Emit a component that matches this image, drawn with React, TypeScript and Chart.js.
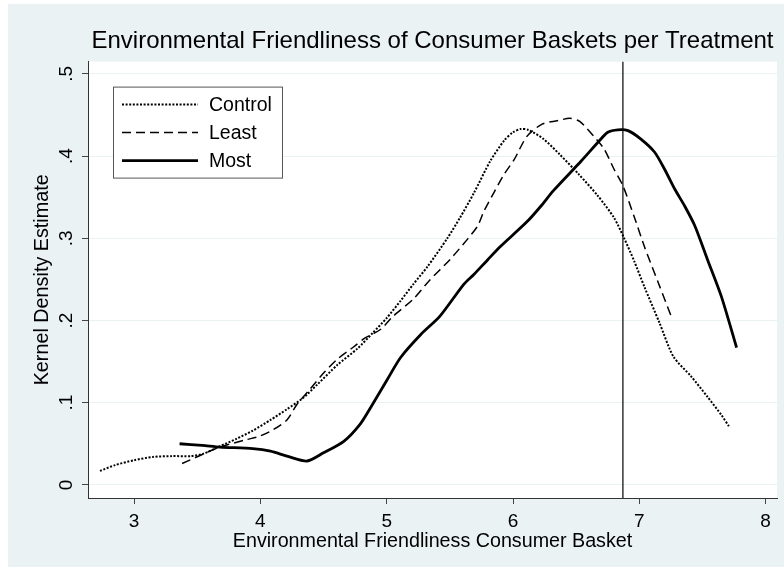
import React, { useEffect, useRef } from 'react';
import { Chart, registerables } from 'chart.js';

Chart.register(...registerables);

const chartTitle = 'Environmental Friendliness of Consumer Baskets per Treatment';
const xTitle = 'Environmental Friendliness Consumer Basket';
const yTitle = 'Kernel Density Estimate';

const seriesNames = ['Control', 'Least', 'Most'];

const controlX = [2.73, 2.85, 3.0, 3.15, 3.3, 3.45, 3.55, 3.68, 3.81, 3.94, 4.08, 4.21, 4.34, 4.45, 4.61, 4.77, 4.89, 5.0, 5.11, 5.21, 5.32, 5.48, 5.58, 5.69, 5.82, 5.93, 6.0, 6.06, 6.12, 6.24, 6.37, 6.52, 6.67, 6.8, 6.88, 6.96, 7.04, 7.16, 7.27, 7.41, 7.54, 7.65, 7.71];
const controlY = [0.017, 0.024, 0.03, 0.034, 0.035, 0.035, 0.038, 0.047, 0.056, 0.066, 0.079, 0.092, 0.106, 0.122, 0.146, 0.166, 0.185, 0.203, 0.224, 0.244, 0.265, 0.3, 0.325, 0.355, 0.394, 0.419, 0.429, 0.433, 0.432, 0.421, 0.402, 0.378, 0.352, 0.325, 0.3, 0.272, 0.241, 0.197, 0.156, 0.132, 0.107, 0.085, 0.071];

const leastX = [3.38, 3.54, 3.68, 3.89, 3.99, 4.1, 4.21, 4.29, 4.39, 4.5, 4.61, 4.74, 4.82, 4.95, 5.05, 5.21, 5.34, 5.5, 5.64, 5.72, 5.77, 5.85, 5.93, 6.01, 6.11, 6.23, 6.35, 6.45, 6.53, 6.64, 6.72, 6.8, 6.87, 6.96, 7.04, 7.15, 7.26];
const leastY = [0.026, 0.037, 0.046, 0.055, 0.059, 0.067, 0.079, 0.098, 0.116, 0.136, 0.153, 0.168, 0.178, 0.189, 0.205, 0.226, 0.249, 0.274, 0.299, 0.315, 0.333, 0.356, 0.378, 0.396, 0.424, 0.439, 0.443, 0.446, 0.442, 0.424, 0.409, 0.384, 0.364, 0.326, 0.29, 0.246, 0.202];

const mostX = [3.36, 3.54, 3.68, 3.94, 4.08, 4.21, 4.37, 4.5, 4.66, 4.79, 4.88, 5.0, 5.11, 5.27, 5.42, 5.61, 5.69, 5.8, 5.9, 6.11, 6.22, 6.32, 6.54, 6.68, 6.75, 6.83, 6.91, 7.01, 7.12, 7.2, 7.28, 7.36, 7.44, 7.54, 7.65, 7.77];
const mostY = [0.05, 0.048, 0.046, 0.044, 0.041, 0.035, 0.029, 0.039, 0.053, 0.074, 0.096, 0.127, 0.155, 0.183, 0.205, 0.244, 0.256, 0.274, 0.29, 0.32, 0.339, 0.358, 0.394, 0.418, 0.429, 0.432, 0.431, 0.421, 0.405, 0.384, 0.36, 0.339, 0.315, 0.274, 0.229, 0.167];

const refLineX = 6.87;

const xMin = 2.635;
const xMax = 8.09;
const xStep = 1;
const yMin = -0.016;
const yMax = 0.515;
const yStep = 0.1;

const FONT = "'Liberation Sans', Arial, Helvetica, sans-serif";
const BG = '#eaf2f3';

const toPoints = (xs: number[], ys: number[]) => xs.map((x, i) => ({ x, y: ys[i] }));

const backgroundPlugin = {
  id: 'stataBackground',
  beforeDraw(chart: any) {
    const { ctx, chartArea } = chart;
    ctx.save();
    ctx.fillStyle = '#ffffff';
    ctx.fillRect(0, 0, chart.width, chart.height);
    ctx.fillStyle = BG;
    ctx.fillRect(8, 4, chart.width - 8, 563);
    ctx.fillStyle = '#ffffff';
    ctx.fillRect(chartArea.left, chartArea.top, chartArea.right - chartArea.left, chartArea.bottom - chartArea.top);
    ctx.restore();
  },
};

const legendPlugin = {
  id: 'boxLegend',
  afterDraw(chart: any) {
    const { ctx, chartArea } = chart;
    const items = chart.data.datasets.filter((d: any) => seriesNames.includes(d.label));
    const left = chartArea.left + 25;
    const top = chartArea.top + 25;
    const w = 169;
    const h = 91;
    ctx.save();
    ctx.fillStyle = '#ffffff';
    ctx.fillRect(left, top, w, h);
    ctx.strokeStyle = '#555555';
    ctx.lineWidth = 1;
    ctx.strokeRect(left + 0.5, top + 0.5, w, h);
    items.forEach((d: any, i: number) => {
      const y = top + 18 + i * 28;
      ctx.beginPath();
      ctx.strokeStyle = d.borderColor;
      ctx.lineWidth = d.borderWidth;
      ctx.setLineDash(d.borderDash || []);
      ctx.moveTo(left + 9, y);
      ctx.lineTo(left + 85, y);
      ctx.stroke();
      ctx.setLineDash([]);
      ctx.fillStyle = '#000000';
      ctx.font = `19.5px ${FONT}`;
      ctx.textBaseline = 'middle';
      ctx.textAlign = 'left';
      ctx.fillText(d.label, left + 96, y + 1);
    });
    ctx.restore();
  },
};

export default function App() {
  const canvasRef = useRef<HTMLCanvasElement | null>(null);

  useEffect(() => {
    if (!canvasRef.current) return;
    const chart = new Chart(canvasRef.current, {
      type: 'line',
      data: {
        datasets: [
          {
            label: seriesNames[0],
            data: toPoints(controlX, controlY),
            borderColor: '#000000',
            borderWidth: 2,
            borderDash: [2, 1.6],
            pointRadius: 0,
            tension: 0.25,
            fill: false,
          },
          {
            label: seriesNames[1],
            data: toPoints(leastX, leastY),
            borderColor: '#000000',
            borderWidth: 1.5,
            borderDash: [9, 5],
            pointRadius: 0,
            tension: 0.25,
            fill: false,
          },
          {
            label: seriesNames[2],
            data: toPoints(mostX, mostY),
            borderColor: '#000000',
            borderWidth: 2.8,
            pointRadius: 0,
            tension: 0.25,
            fill: false,
          },
          {
            label: 'ref',
            data: [
              { x: refLineX, y: yMin },
              { x: refLineX, y: yMax },
            ],
            borderColor: '#000000',
            borderWidth: 1.2,
            pointRadius: 0,
            fill: false,
          },
        ],
      },
      options: {
        animation: false,
        responsive: false,
        devicePixelRatio: 1,
        layout: { padding: { left: 0, right: 7, top: 0, bottom: 0 } },
        plugins: {
          legend: { display: false },
          tooltip: { enabled: false },
          title: {
            display: true,
            text: chartTitle,
            fullSize: false,
            color: '#000000',
            font: { family: FONT, size: 24, weight: 'normal' },
            padding: { top: 26.5, bottom: 6.3 },
          },
        },
        scales: {
          x: {
            type: 'linear',
            min: xMin,
            max: xMax,
            afterFit: (scale: any) => {
              scale.height = 78;
            },
            ticks: {
              stepSize: xStep,
              includeBounds: false,
              padding: 6,
              color: '#000000',
              font: { family: FONT, size: 19 },
              callback: (v: any) => String(v),
            },
            grid: {
              drawOnChartArea: false,
              drawTicks: true,
              tickLength: 6,
              tickColor: '#444444',
            },
            border: { display: true, color: '#333333', width: 1 },
            title: {
              display: true,
              text: xTitle,
              color: '#000000',
              font: { family: FONT, size: 19.7 },
              padding: { top: 0, bottom: 23 },
            },
          },
          y: {
            type: 'linear',
            min: yMin,
            max: yMax,
            afterFit: (scale: any) => {
              scale.width = 88;
            },
            ticks: {
              stepSize: yStep,
              includeBounds: false,
              minRotation: 90,
              maxRotation: 90,
              crossAlign: 'center',
              padding: 7,
              color: '#000000',
              font: { family: FONT, size: 19 },
              callback: (v: any) => {
                const n = Number(v);
                if (Math.abs(n) < 1e-9) return '0';
                return n.toFixed(1).replace(/^0/, '');
              },
            },
            grid: {
              color: BG,
              lineWidth: 1,
              drawTicks: true,
              tickLength: 6,
              tickColor: '#444444',
            },
            border: { display: true, color: '#333333', width: 1 },
            title: {
              display: true,
              text: yTitle,
              color: '#000000',
              font: { family: FONT, size: 19.8 },
              padding: { top: 31, bottom: 0 },
            },
          },
        },
      },
      plugins: [backgroundPlugin, legendPlugin],
    } as any);
    return () => chart.destroy();
  }, []);

  return (
    <div style={{ width: 784, height: 576, position: 'relative' }}>
      <style>{'body{margin:0;}'}</style>
      <canvas ref={canvasRef} width={784} height={576} style={{ display: 'block', width: 784, height: 576 }} />
    </div>
  );
}
